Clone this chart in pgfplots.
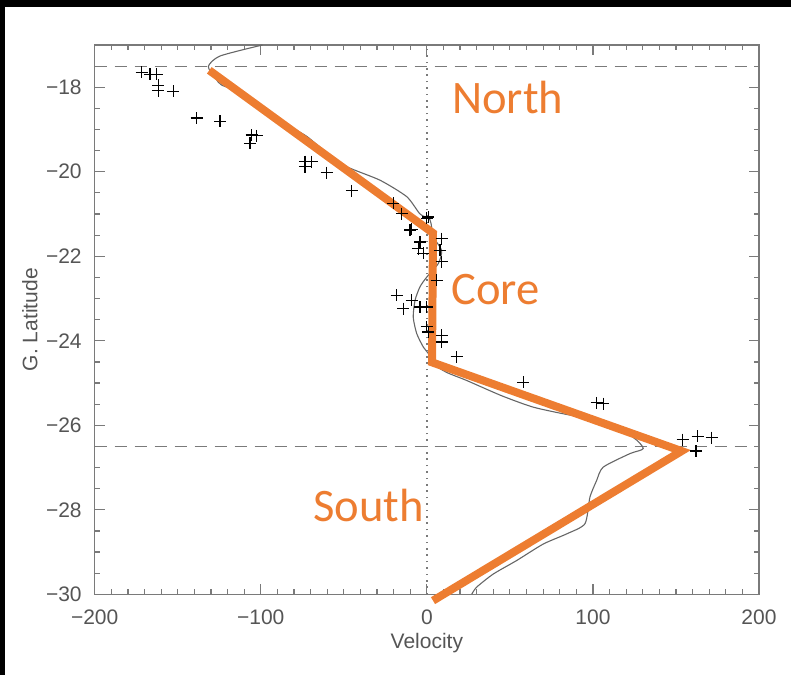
\documentclass[border=0pt]{standalone}
\usepackage{fontspec}
\setmainfont{Liberation Sans}
\newfontfamily\calibri{Carlito}
\usepackage{pgfplots}
\pgfplotsset{compat=1.18}
\definecolor{orangeC}{HTML}{ED7D31}
\definecolor{axgray}{HTML}{7A7A7A}
\definecolor{txtgray}{HTML}{555555}
\definecolor{curvegray}{HTML}{666666}
\begin{document}
\begin{tikzpicture}
\useasboundingbox (-47.35pt,-40.35pt) rectangle (348.15pt,297.15pt);
\fill[black] (-47.35pt,293.4pt) rectangle (348.15pt,297.15pt);
\fill[black] (-47.35pt,-40.35pt) rectangle (-44.85pt,297.15pt);
\begin{axis}[
  at={(0pt,0pt)}, anchor=south west,
  scale only axis, width=332.15pt, height=274.65pt,
  xmin=-200, xmax=200, ymin=-30, ymax=-17,
  clip=false,
  xtick={-200,-100,0,100,200},
  xticklabels={−200,−100,0,100,200},
  ytick={-30,-28,-26,-24,-22,-20,-18},
  yticklabels={−30,−28,−26,−24,−22,−20,−18},
  minor xtick={-200,-190,...,200},
  minor ytick={-30,-29.5,...,-17},
  tick align=inside,
  xtick pos=both, ytick pos=both,
  xticklabel pos=lower, yticklabel pos=left,
  major tick length=5pt, minor tick length=2.6pt,
  axis line style={axgray, line width=0.8pt},
  every tick/.style={axgray, line width=0.6pt},
  xticklabel style={font=\fontsize{10.5}{12}\selectfont, text=txtgray, yshift=-4pt},
  yticklabel style={font=\fontsize{10.5}{12}\selectfont, text=txtgray, xshift=-3pt},
  xlabel={Velocity}, ylabel={G. Latitude},
  xlabel style={font=\fontsize{10.5}{12}\selectfont, text=txtgray, at={(axis description cs:0.5,-0.0888)}, anchor=center},
  ylabel style={font=\fontsize{10.5}{12}\selectfont, text=txtgray, at={(axis description cs:-0.0975,0.5)}, anchor=center},
]
% reference lines
\addplot[axgray, line width=0.6pt, dash pattern=on 6pt off 4pt] coordinates {(-200,-17.5) (200,-17.5)};
\addplot[axgray, line width=0.6pt, dash pattern=on 6pt off 4pt] coordinates {(-200,-26.5) (200,-26.5)};
\addplot[axgray, line width=0.8pt, dash pattern=on 0.8pt off 2.4pt] coordinates {(0,-30) (0,-17)};
% model curve
\addplot[curvegray, line width=0.55pt, smooth, tension=0.4] coordinates {
(-99,-17.0) (-124.5,-17.26) (-131.6,-17.51) (-127,-17.8) (-123.5,-17.95)
(-110,-18.15) (-95,-18.58) (-80,-18.98) (-72,-19.17) (-60,-19.56)
(-48.3,-19.88) (-28.2,-20.2) (-12.1,-20.59) (-4.1,-21.0) (1.9,-21.14)
(3.9,-21.54) (8.9,-21.86) (6.9,-22.17) (0,-22.49) (-4.1,-22.72)
(-7.1,-23.04) (-8.2,-23.44) (-6.1,-23.83) (-2.1,-24.15) (0.9,-24.3)
(4,-24.55) (12,-24.75) (24,-24.94) (45,-25.3) (64,-25.57) (85,-25.75)
(104,-25.88) (124,-26.28) (130.3,-26.55) (122.3,-26.67) (106.2,-26.99)
(102.2,-27.31) (98.2,-27.7) (95.2,-28.33) (84.2,-28.57) (70.1,-28.81)
(54.1,-29.2) (40,-29.52) (30,-29.83) (27,-30.0)
};
% observations
\addplot[only marks, mark=+, mark size=3pt, black, mark options={line width=0.6pt}] coordinates {
(-171.7,-17.65) (-166.7,-17.69) (-162.7,-17.69) (-161.7,-17.95) (-161.7,-18.08)
(-152.6,-18.1) (-138.6,-18.73) (-124.5,-18.81) (-105.5,-19.13) (-102.5,-19.15)
(-106.5,-19.33) (-73.4,-19.76) (-69.3,-19.76) (-73.4,-19.88) (-60.3,-20.02)
(-45.2,-20.45) (-20.2,-20.75) (-15.1,-20.99) (-9.1,-21.36) (0,-21.1)
(0.9,-21.07) (-10.1,-21.38) (-4.1,-21.66) (-5.1,-21.82) (-2.1,-21.93)
(8.9,-21.58) (7.9,-21.86) (8.9,-22.13) (5.9,-22.57) (-18.2,-22.92)
(-9.1,-23.04) (-14.2,-23.24) (-4.1,-23.2) (-0.1,-23.2) (0,-23.67)
(0.9,-23.79) (8.9,-23.87) (8.9,-24.03) (18,-24.38) (58.1,-24.98)
(102.2,-25.47) (106.2,-25.49) (154,-26.34) (163.1,-26.26) (171.5,-26.29)
(162.1,-26.61)
};
% orange schematic
\addplot[orangeC, line width=4pt, line join=miter] coordinates {
(-131,-17.6) (3.7,-21.45) (3.1,-24.51) (153.4,-26.61) (3.7,-30.15)
};
\node[anchor=base west, text=orangeC, font=\calibri\fontsize{23.3}{28}\selectfont, inner sep=0pt] at (axis cs:15.1,-18.61) {North};
\node[anchor=base west, text=orangeC, font=\calibri\fontsize{23.3}{28}\selectfont, inner sep=0pt] at (axis cs:14.5,-23.14) {Core};
\node[anchor=base west, text=orangeC, font=\calibri\fontsize{23.3}{28}\selectfont, inner sep=0pt] at (axis cs:-68.6,-28.28) {South};
\end{axis}
\end{tikzpicture}
\end{document}
